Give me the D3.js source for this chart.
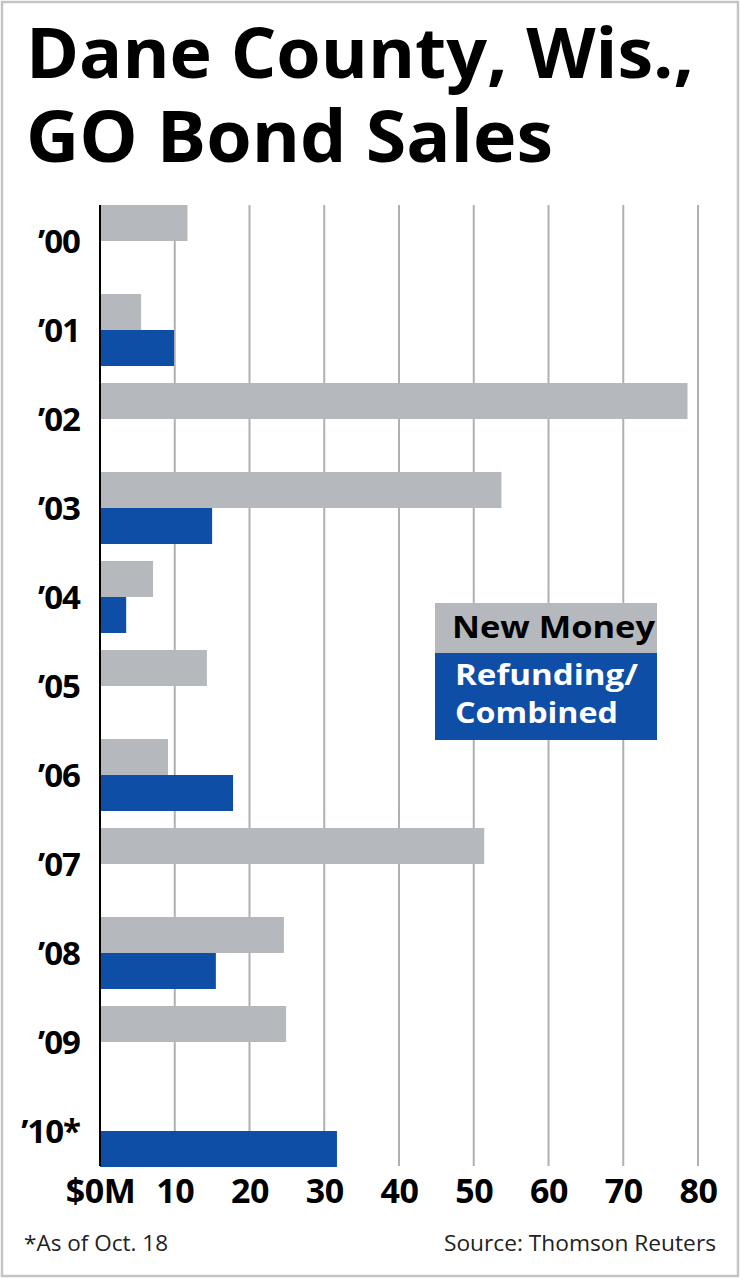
<!DOCTYPE html>
<html><head><meta charset="utf-8">
<script src="https://cdn.jsdelivr.net/npm/d3@7"></script>
<style>
html,body{margin:0;padding:0;background:#fff;}
svg{display:block;}
</style>
</head><body>
<script>
const years = ["’00","’01","’02","’03","’04","’05","’06","’07","’08","’09","’10*"];
const newMoney = [11.7, 5.5, 78.6, 53.7, 7.1, 14.3, 9.1, 51.4, 24.6, 24.9, null];
const refunding = [null, 9.9, null, 15.0, 3.5, null, 17.8, null, 15.5, null, 31.7];
const tickValues = [0,10,20,30,40,50,60,70,80];
const tickLabels = ["$0M","10","20","30","40","50","60","70","80"];
const seriesNames = ["New Money","Refunding/Combined"];
const titleLines = ["Dane County, Wis.,","GO Bond Sales"];

const W=740,H=1278;
const svg=d3.select("body").append("svg").attr("width",W).attr("height",H);
svg.append("rect").attr("x",2).attr("y",2).attr("width",W-4).attr("height",H-4)
  .attr("fill","#fff").attr("stroke","#c4c4c4").attr("stroke-width",2.5);

const grey="#b5b8bc", blue="#0f4ea6";
const font="'Open Sans', 'DejaVu Sans', sans-serif";

// title
svg.append("text").attr("x",26).attr("y",78).text(titleLines[0])
  .attr("font-family",font).attr("font-weight",700).attr("font-size",69)
  .attr("textLength",668).attr("lengthAdjust","spacingAndGlyphs").attr("fill","#000");
svg.append("text").attr("x",26).attr("y",162).text(titleLines[1])
  .attr("font-family",font).attr("font-weight",700).attr("font-size",72)
  .attr("textLength",527).attr("lengthAdjust","spacingAndGlyphs").attr("fill","#000");

const x=d3.scaleLinear().domain([0,80]).range([100,698]);
const y=d3.scaleBand().domain(years).range([205,205+89*years.length]).padding(0);
const sub=d3.scaleBand().domain(seriesNames).range([0,72]).padding(0);
const plotTop=205, plotBottom=1166;

// gridlines
svg.append("g").selectAll("line").data(tickValues.filter(d=>d>0)).join("line")
  .attr("x1",d=>x(d)).attr("x2",d=>x(d)).attr("y1",plotTop).attr("y2",plotBottom)
  .attr("stroke","#b0b0b0").attr("stroke-width",2);

// bars
const rows=years.map((yr,i)=>({yr,nm:newMoney[i],rf:refunding[i]}));
svg.append("g").selectAll("rect").data(rows.filter(d=>d.nm!=null)).join("rect")
  .attr("x",x(0)).attr("y",d=>y(d.yr)+sub(seriesNames[0]))
  .attr("width",d=>x(d.nm)-x(0)).attr("height",sub.bandwidth()).attr("fill",grey);
svg.append("g").selectAll("rect").data(rows.filter(d=>d.rf!=null)).join("rect")
  .attr("x",x(0)).attr("y",d=>y(d.yr)+sub(seriesNames[1]))
  .attr("width",d=>x(d.rf)-x(0)).attr("height",sub.bandwidth()).attr("fill",blue);

// axis line
svg.append("line").attr("x1",x(0)).attr("x2",x(0)).attr("y1",plotTop).attr("y2",plotBottom)
  .attr("stroke","#000").attr("stroke-width",2);

// year labels
svg.append("g").selectAll("text").data(years).join("text")
  .attr("x",80).attr("y",d=>y(d)+36).attr("dy","0.36em").attr("text-anchor","end")
  .attr("font-family",font).attr("font-weight",700).attr("font-size",33)
  .attr("letter-spacing",-1).text(d=>d);

// x tick labels
const xAxis=d3.axisBottom(x).tickValues(tickValues).tickFormat((d,i)=>tickLabels[i]).tickSize(0).tickPadding(0);
const gx=svg.append("g").attr("transform","translate(0,1179)").call(xAxis);
gx.select(".domain").remove();
gx.selectAll("text").attr("font-family",font).attr("font-weight",700).attr("font-size",34)
  .attr("fill","#000").attr("letter-spacing",-0.5);

// legend
const lg=svg.append("g");
lg.append("rect").attr("x",435).attr("y",603).attr("width",222).attr("height",50).attr("fill",grey);
lg.append("rect").attr("x",435).attr("y",653).attr("width",222).attr("height",87).attr("fill",blue);
lg.append("text").attr("x",452).attr("y",638).text("New Money")
  .attr("font-family",font).attr("font-weight",700).attr("font-size",30).attr("fill","#000")
  .attr("textLength",203).attr("lengthAdjust","spacingAndGlyphs");
lg.append("text").attr("x",455).attr("y",685).text("Refunding/")
  .attr("font-family",font).attr("font-weight",700).attr("font-size",28).attr("fill","#fff")
  .attr("textLength",183).attr("lengthAdjust","spacingAndGlyphs");
lg.append("text").attr("x",455).attr("y",723).text("Combined")
  .attr("font-family",font).attr("font-weight",700).attr("font-size",29).attr("fill","#fff")
  .attr("textLength",163).attr("lengthAdjust","spacingAndGlyphs");

// footer
svg.append("text").attr("x",24).attr("y",1251).text("*As of Oct. 18")
  .attr("font-family",font).attr("font-size",21).attr("fill","#222")
  .attr("textLength",144).attr("lengthAdjust","spacingAndGlyphs");
svg.append("text").attr("x",716).attr("y",1251).attr("text-anchor","end").text("Source: Thomson Reuters")
  .attr("font-family",font).attr("font-size",21).attr("fill","#222")
  .attr("textLength",272).attr("lengthAdjust","spacingAndGlyphs");
</script>
</body></html>
